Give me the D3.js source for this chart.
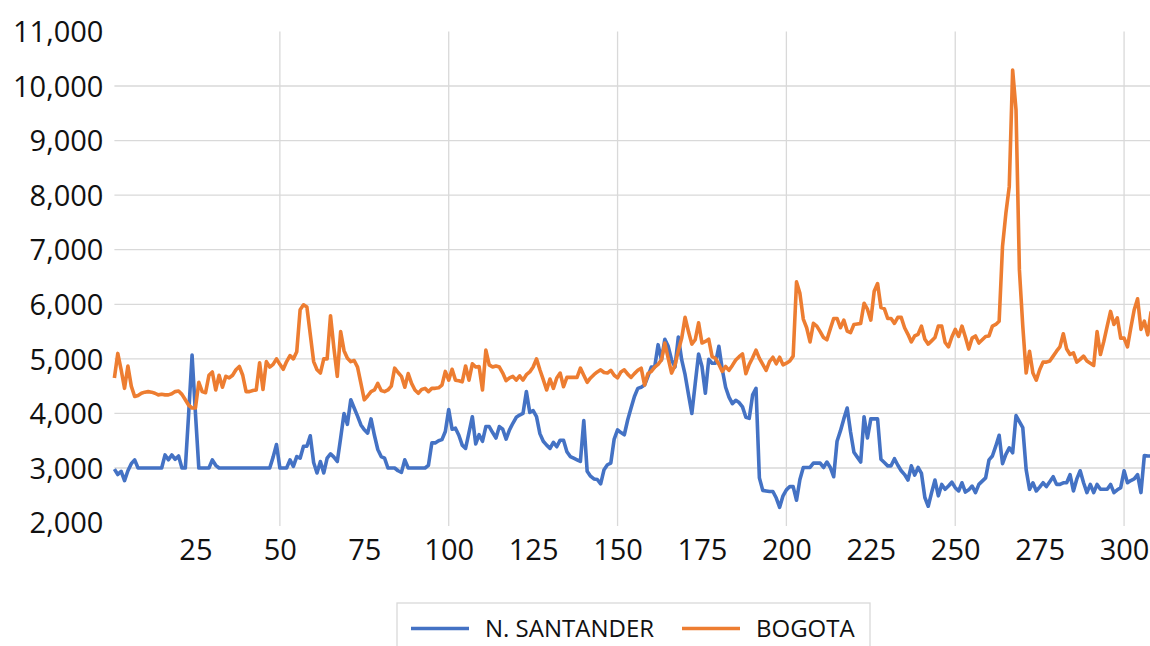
<!DOCTYPE html>
<html><head><meta charset="utf-8">
<script src="https://cdn.jsdelivr.net/npm/d3@7"></script>
<style>body{margin:0;background:#fff} svg{display:block}</style>
</head><body><svg id="c" width="1150" height="646"></svg>
<script>
const seriesNames = ["N. SANTANDER", "BOGOTA"];
const santander = [
2980,2880,2940,2770,2950,3080,3150,3000,3000,3000,
3000,3000,3000,3000,3000,3240,3150,3240,3160,3220,
3000,3000,4000,5070,4000,3000,3000,3000,3000,3150,
3050,3000,3000,3000,3000,3000,3000,3000,3000,3000,
3000,3000,3000,3000,3000,3000,3000,3200,3430,3000,
3000,3000,3150,3030,3210,3180,3400,3400,3590,3100,
2910,3120,2910,3180,3260,3200,3120,3550,4000,3800,
4250,4100,3950,3790,3700,3640,3900,3600,3340,3210,
3180,3000,3000,3000,2950,2920,3150,3000,3000,3000,
3000,3000,3000,3050,3460,3460,3500,3520,3670,4070,
3710,3730,3600,3420,3360,3650,3940,3440,3610,3490,
3760,3760,3650,3550,3760,3710,3530,3700,3820,3930,
3970,4000,4400,4020,4050,3940,3630,3490,3420,3360,
3470,3390,3510,3510,3300,3210,3180,3150,3120,3870,
2940,2850,2800,2790,2710,2970,3060,3090,3530,3700,
3650,3610,3880,4100,4310,4460,4480,4520,4680,4850,
4850,5260,4980,5360,5230,4980,4850,5400,4980,4710,
4350,4000,4550,5090,4860,4370,4990,4920,4920,5230,
4810,4480,4300,4180,4240,4200,4120,3930,3910,4340,
4460,2820,2590,2580,2570,2570,2450,2280,2490,2600,
2660,2660,2410,2790,3010,3010,3010,3090,3090,3090,
3010,3110,3010,2840,3490,3680,3900,4100,3660,3290,
3200,3110,3940,3550,3900,3900,3900,3160,3100,3040,
3040,3170,3050,2950,2880,2780,3040,2870,3010,2900,
2460,2300,2550,2780,2490,2700,2610,2670,2740,2640,
2580,2730,2560,2600,2670,2550,2700,2760,2820,3150,
3220,3400,3600,3080,3250,3370,3280,3960,3850,3740,
2970,2610,2730,2580,2650,2730,2660,2750,2840,2700,
2700,2730,2730,2880,2580,2800,2950,2730,2550,2700,
2550,2700,2610,2610,2610,2700,2550,2600,2640,2950,
2730,2770,2800,2880,2550,3230,3220,3220
];
const bogota = [
4650,5100,4800,4460,4870,4500,4310,4330,4370,4390,
4400,4390,4370,4340,4350,4340,4340,4360,4400,4410,
4350,4250,4150,4100,4100,4570,4400,4380,4700,4760,
4430,4700,4480,4680,4650,4700,4800,4860,4700,4400,
4400,4420,4430,4930,4440,4950,4850,4900,5000,4900,
4810,4950,5060,5000,5130,5900,5990,5950,5450,4950,
4800,4740,5000,5000,5790,5200,4680,5500,5150,5010,
4950,4970,4850,4550,4250,4320,4400,4430,4550,4420,
4400,4430,4500,4830,4750,4680,4480,4730,4550,4430,
4370,4440,4460,4400,4460,4460,4470,4520,4770,4610,
4810,4610,4600,4580,4870,4610,4910,4850,4860,4430,
5160,4890,4850,4870,4850,4740,4600,4650,4680,4610,
4690,4610,4710,4760,4850,5000,4800,4620,4430,4630,
4460,4650,4740,4490,4660,4660,4660,4660,4830,4700,
4570,4650,4710,4760,4800,4750,4740,4790,4700,4650,
4760,4800,4720,4660,4730,4790,4830,4520,4730,4770,
4850,4900,4980,5290,5010,4740,4880,5150,5380,5760,
5500,5270,5350,5660,5290,5320,5360,5040,5010,4900,
4770,4860,4790,4880,4980,5040,5090,4730,4900,5020,
5160,5010,4900,4790,4950,5030,4910,5030,4890,4920,
4960,5050,6410,6200,5730,5570,5310,5650,5600,5500,
5390,5350,5550,5740,5740,5570,5710,5510,5480,5630,
5640,5650,6020,5910,5710,6240,6380,5940,5920,5740,
5740,5650,5760,5760,5570,5450,5310,5420,5450,5600,
5360,5270,5330,5390,5600,5600,5300,5220,5400,5540,
5410,5600,5400,5180,5380,5420,5290,5350,5410,5420,
5600,5630,5690,7060,7670,8160,10290,9560,6630,5600,
4740,5140,4740,4610,4800,4940,4940,4960,5050,5140,
5220,5460,5180,5080,5110,4940,4990,5050,4960,4920,
4880,5500,5080,5320,5600,5870,5630,5750,5380,5380,
5220,5570,5900,6100,5540,5690,5440,5870
];
const xLabelTicks = [25,50,75,100,125,150,175,200,225,250,275,300];
const xGridTicks = [50,100,150,200,250,300];
const yTicks = [2000,3000,4000,5000,6000,7000,8000,9000,10000,11000];
const colors = ["#4472C4", "#ED7D31"];

const days = santander.map((_, i) => i + 1);
const series = [santander, bogota];

const svg = d3.select("#c");
const FONT = "'Open Sans', sans-serif";
const x = d3.scaleLinear().domain([1, 308]).range([114.4, 1151.1]);
const y = d3.scaleLinear().domain([2000, 11000]).range([522.6, 31.4]);

// horizontal gridlines
svg.append("g").selectAll("line")
  .data(yTicks.filter(v => v > 2000 && v < 11000)).join("line")
  .attr("x1", x(1)).attr("x2", 1150)
  .attr("y1", d => y(d)).attr("y2", d => y(d))
  .attr("stroke", "#d9d9d9").attr("stroke-width", 1.3);
// vertical gridlines
svg.append("g").selectAll("line")
  .data(xGridTicks).join("line")
  .attr("x1", d => x(d)).attr("x2", d => x(d))
  .attr("y1", y(11000)).attr("y2", 526)
  .attr("stroke", "#d9d9d9").attr("stroke-width", 1.3);

// y axis
const ya = svg.append("g").attr("transform", `translate(${x(1)},0)`)
  .call(d3.axisLeft(y).tickValues(yTicks).tickFormat(d3.format(",")).tickSize(0).tickPadding(11));
ya.select(".domain").remove();
ya.selectAll("text").attr("font-family", FONT).attr("font-size", 29).attr("fill", "#111").attr("dy", "0.35em");

// x axis
const xa = svg.append("g").attr("transform", `translate(0,${y(2000)})`)
  .call(d3.axisBottom(x).tickValues(xLabelTicks).tickFormat(d3.format("d")).tickSize(0).tickPadding(17));
xa.select(".domain").remove();
xa.selectAll("text").attr("font-family", FONT).attr("font-size", 29).attr("fill", "#111");

// lines
const line = d3.line().x((d, i) => x(days[i])).y(d => y(d));
series.forEach((s, k) => {
  svg.append("path").datum(s)
    .attr("d", line).attr("fill", "none")
    .attr("stroke", colors[k]).attr("stroke-width", 3.6)
    .attr("stroke-linejoin", "round");
});

// legend
const lg = svg.append("g");
lg.append("rect").attr("x", 397).attr("y", 603).attr("width", 473).attr("height", 70)
  .attr("fill", "none").attr("stroke", "#d9d9d9").attr("stroke-width", 1.3);
const legendItems = [
  {name: seriesNames[0], color: colors[0], lx: 411, tx: 485},
  {name: seriesNames[1], color: colors[1], lx: 682, tx: 756}
];
legendItems.forEach(it => {
  lg.append("line").attr("x1", it.lx).attr("x2", it.lx + 58).attr("y1", 628.5).attr("y2", 628.5)
    .attr("stroke", it.color).attr("stroke-width", 3.6);
  lg.append("text").attr("x", it.tx).attr("y", 628.5).attr("dy", "0.35em")
    .attr("font-family", FONT).attr("font-size", 24).attr("fill", "#111").text(it.name);
});
</script></body></html>
